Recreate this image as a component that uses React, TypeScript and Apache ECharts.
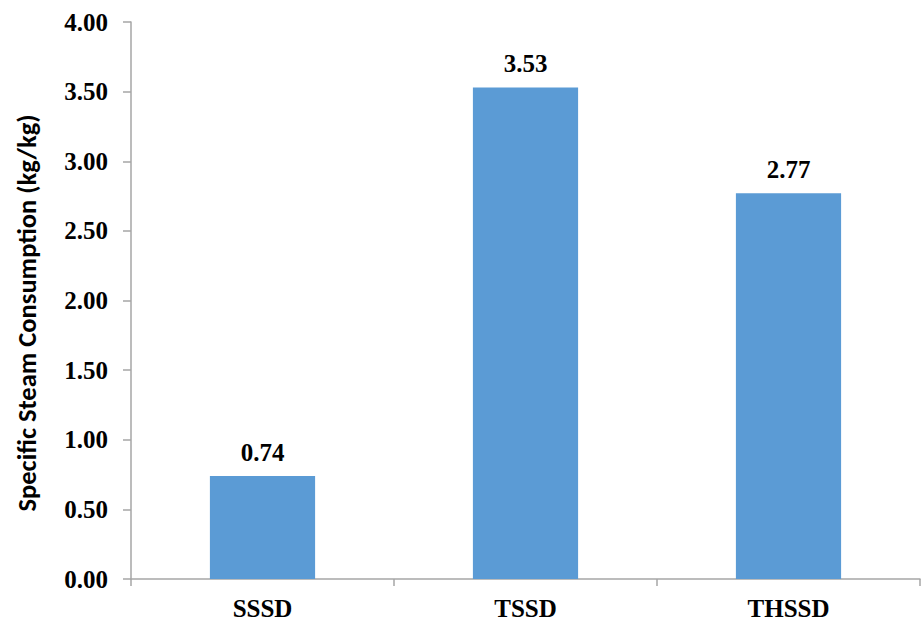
import React, { useEffect, useRef } from "react";
import * as echarts from "echarts";

const categories = ["SSSD", "TSSD", "THSSD"];
const values = [0.74, 3.53, 2.77];
const yAxisTitle = "Specific Steam Consumption (kg/kg)";

const serif = "'Times New Roman', 'Liberation Serif', serif";
const sans = "Calibri, 'Liberation Sans', Arial, sans-serif";

export default function App() {
  const ref = useRef<HTMLDivElement>(null);
  useEffect(() => {
    if (!ref.current) return;
    const chart = echarts.init(ref.current, undefined, { renderer: "svg" });
    chart.setOption({
      animation: false,
      backgroundColor: "#ffffff",
      grid: { left: 131, right: 1, top: 22, bottom: 44, containLabel: false },
      graphic: [
        {
          type: "text",
          x: 27,
          y: 313,
          rotation: Math.PI / 2,
          style: {
            text: yAxisTitle,
            fill: "#000",
            font: `bold 26.5px ${sans}`,
            textAlign: "center",
            textVerticalAlign: "middle",
          },
        },
      ],
      xAxis: {
        type: "category",
        data: categories,
        axisLine: { show: true, lineStyle: { color: "#A6A6A6", width: 1.5 } },
        axisTick: { show: true, length: 7, alignWithLabel: false, lineStyle: { color: "#A6A6A6", width: 1.5 } },
        axisLabel: {
          color: "#000",
          fontFamily: serif,
          fontWeight: "bold",
          fontSize: 25,
          margin: 17,
        },
        splitLine: { show: false },
      },
      yAxis: {
        type: "value",
        min: 0,
        max: 4,
        interval: 0.5,
        axisLine: { show: true, lineStyle: { color: "#A6A6A6", width: 1.5 } },
        axisTick: { show: true, length: 8, lineStyle: { color: "#A6A6A6", width: 1.5 } },
        axisLabel: {
          color: "#000",
          fontFamily: serif,
          fontWeight: "bold",
          fontSize: 25,
          margin: 23,
          formatter: (v: number) => v.toFixed(2),
        },
        splitLine: { show: false },
      },
      series: [
        {
          type: "bar",
          data: values,
          barWidth: "40%",
          itemStyle: { color: "#5B9BD5" },
          label: {
            show: true,
            position: "top",
            distance: 11,
            color: "#000",
            fontFamily: serif,
            fontWeight: "bold",
            fontSize: 25,
            formatter: (p: any) => Number(p.value).toFixed(2),
          },
        },
      ],
    });
    return () => chart.dispose();
  }, []);
  return (
    <div
      ref={ref}
      style={{ position: "fixed", left: 0, top: 0, width: 921, height: 623, background: "#fff" }}
    />
  );
}
